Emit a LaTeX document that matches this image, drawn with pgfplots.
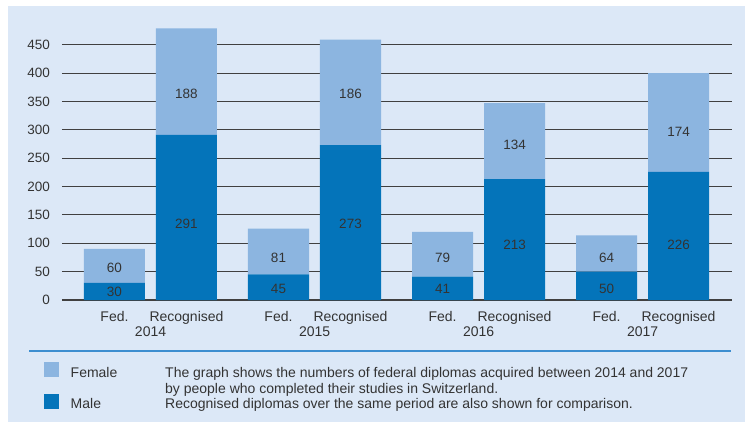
\documentclass[border=0pt]{standalone}
\usepackage{fontspec}
\setmainfont{Liberation Sans}
\usepackage{pgfplots}
\pgfplotsset{compat=1.18}
\definecolor{panel}{HTML}{DCE8F7}
\definecolor{male}{HTML}{0474BA}
\definecolor{female}{HTML}{8CB5E0}
\definecolor{txt}{HTML}{333333}
\definecolor{rulec}{HTML}{3D8ED0}
\newcommand{\numfont}{\fontsize{13.5}{16}\selectfont}
\pgfplotsset{frame/.style={
  at={(62pt,124pt)}, anchor=south west,
  scale only axis, width=670pt, height=272.3pt,
  xmin=2013.680, xmax=2017.765, ymin=0, ymax=480}}
\begin{document}
\begin{tikzpicture}[x=1pt,y=1pt,font=\fontsize{14}{16}\selectfont]
\path[use as bounding box, fill=white] (0,0) rectangle (745,424);
\fill[panel] (8,2) rectangle (745,418);
\begin{axis}[frame,
  ybar stacked, bar width=0.372,
  axis line style={draw=none}, major tick length=0pt,
  ytick={0,50,...,450},
  ymajorgrids, grid style={draw=black!75, line width=1.1pt},
  xtick={2014,2014.439,2015,2015.439,2016,2016.439,2017,2017.439},
  xticklabels={Fed.,Recognised,Fed.,Recognised,Fed.,Recognised,Fed.,Recognised},
  extra x ticks={2014.22,2015.22,2016.22,2017.22},
  extra x tick labels={2014,2015,2016,2017},
  extra x tick style={xticklabel style={yshift=-14.7pt}},
  xticklabel style={anchor=base, inner sep=0pt, yshift=-21.7pt, text=txt,
    font=\fontsize{14}{16}\selectfont},
  yticklabel style={anchor=east, inner sep=0pt, xshift=-12pt, text=txt,
    font=\numfont},
  /pgf/number format/assume math mode=true,
]
\addplot[fill=male, draw=none] coordinates {
  (2014,30) (2014.439,291)
  (2015,45) (2015.439,273)
  (2016,41) (2016.439,213)
  (2017,50) (2017.439,226)
};
\addplot[fill=female, draw=none] coordinates {
  (2014,60) (2014.439,188)
  (2015,81) (2015.439,186)
  (2016,79) (2016.439,134)
  (2017,64) (2017.439,174)
};
\end{axis}
% value labels, placed where the reference shows them
\begin{axis}[frame, hide axis]
\addplot[only marks, mark=none,
  point meta=explicit symbolic, nodes near coords,
  every node near coord/.style={anchor=center, inner sep=0pt, text=txt, font=\numfont}]
  coordinates {
  (2014,14.6)[30] (2014,55.8)[60] (2014.439,135)[291] (2014.439,362.6)[188]
  (2015,18.8)[45] (2015,74.6)[81] (2015.439,135)[273] (2015.439,362.6)[186]
  (2016,18.8)[41] (2016,74.6)[79] (2016.439,98)[213] (2016.439,273)[134]
  (2017,18.8)[50] (2017,74.6)[64] (2017.439,98)[226] (2017.439,296.7)[174]
};
\end{axis}
\draw[rulec, line width=2pt] (29,73) -- (731,73);
\fill[female] (44,47) rectangle (59,62);
\fill[male] (44,15) rectangle (59,30);
\begin{scope}[every node/.style={anchor=base west, inner sep=0pt, text=txt}]
\node at (70.5,46.4) {Female};
\node at (70.5,15.1) {Male};
\node at (165,46.4) {The graph shows the numbers of federal diplomas acquired between 2014 and 2017};
\node at (165,30.2) {by people who completed their studies in Switzerland.};
\node at (165,15.1) {Recognised diplomas over the same period are also shown for comparison.};
\end{scope}
\end{tikzpicture}
\end{document}
